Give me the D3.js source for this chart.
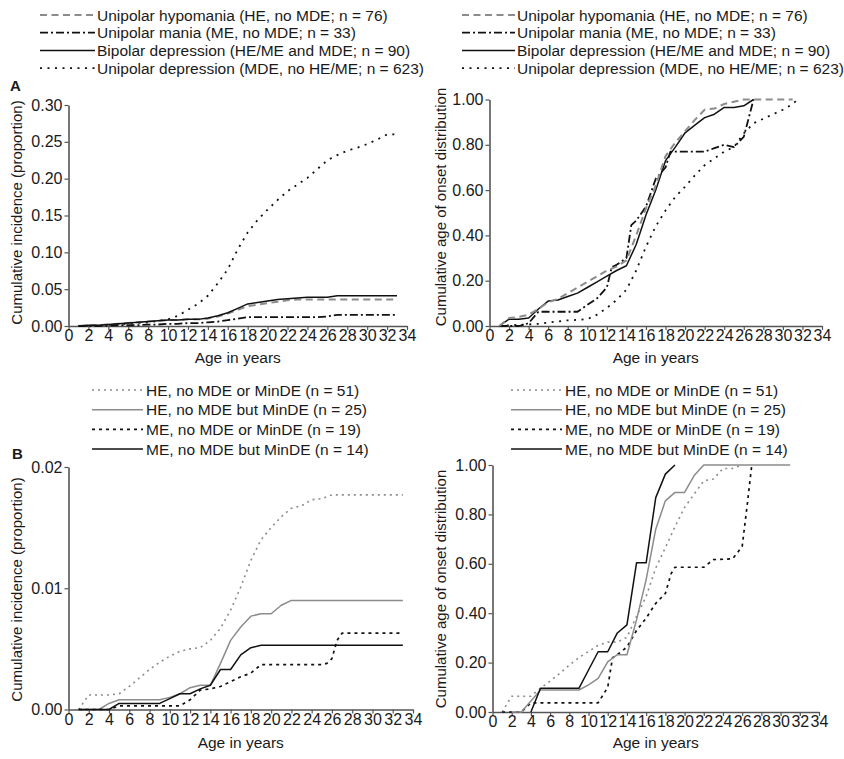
<!DOCTYPE html>
<html><head><meta charset="utf-8">
<script src="https://cdn.jsdelivr.net/npm/d3@7"></script>
<style>
html,body{margin:0;padding:0;background:#fff;}
svg text{font-family:"Liberation Sans",Arial,Helvetica,sans-serif;fill:#1a1a1a;}
</style></head>
<body><div id="chart"></div>
<script>
// ---------------- DATA ----------------
const xTickValues = [0,2,4,6,8,10,12,14,16,18,20,22,24,26,28,30,32,34];
const yTicksAInc = [0,0.05,0.10,0.15,0.20,0.25,0.30];
const yTicksDist = [0,0.20,0.40,0.60,0.80,1.00];
const yTicksBInc = [0,0.01,0.02];

const legendA = [
  "Unipolar hypomania (HE, no MDE; n = 76)",
  "Unipolar mania (ME, no MDE; n = 33)",
  "Bipolar depression (HE/ME and MDE; n = 90)",
  "Unipolar depression (MDE, no HE/ME; n = 623)"
];
const legendB = [
  "HE, no MDE or MinDE (n = 51)",
  "HE, no MDE but MinDE (n = 25)",
  "ME, no MDE or MinDE (n = 19)",
  "ME, no MDE but MinDE (n = 14)"
];

// Panel A, cumulative incidence (ages 1..33)
const agesA = [1,2,3,4,5,6,7,8,9,10,11,12,13,14,15,16,17,18,19,20,21,22,23,24,25,26,27,28,29,30,31,32,33];
const aIncHypo = [0,0.001,0.001,0.002,0.003,0.004,0.005,0.006,0.007,0.008,0.008,0.009,0.009,0.010,0.013,0.017,0.022,0.027,0.029,0.031,0.033,0.035,0.036,0.036,0.036,0.036,0.036,0.036,0.036,0.036,0.036,0.036,0.036];
const aIncMania = [0,0,0,0.0005,0.001,0.001,0.001,0.002,0.002,0.003,0.003,0.004,0.004,0.005,0.006,0.008,0.010,0.012,0.012,0.012,0.012,0.012,0.012,0.012,0.012,0.013,0.015,0.015,0.015,0.015,0.015,0.015,0.015];
const aIncBipolar = [0,0.001,0.001,0.002,0.003,0.004,0.005,0.006,0.007,0.008,0.008,0.009,0.009,0.011,0.014,0.018,0.024,0.030,0.032,0.034,0.036,0.037,0.038,0.039,0.039,0.039,0.041,0.041,0.041,0.041,0.041,0.041,0.041];
const aIncDep = [0,0.0005,0.001,0.0015,0.002,0.003,0.004,0.005,0.007,0.009,0.014,0.022,0.030,0.041,0.058,0.077,0.104,0.127,0.144,0.158,0.171,0.183,0.192,0.201,0.213,0.225,0.232,0.238,0.242,0.247,0.253,0.260,0.260];

// Panel A, cumulative age of onset distribution
const aDistHypoAges = [1,2,3,4,5,6,7,8,9,10,11,12,13,14,15,16,17,18,19,20,21,22,23,24,25,26,31];
const aDistHypo = [0,0.035,0.04,0.05,0.075,0.105,0.12,0.145,0.17,0.195,0.22,0.245,0.262,0.29,0.40,0.52,0.62,0.75,0.81,0.86,0.91,0.955,0.96,0.98,0.99,1.0,1.0];
const aDistManiaAges = [1,2,3,4,5,6,7,8,9,10,11,12,12.5,13,14,14.5,15,16,17,18,18.5,19,20,21,22,23,24,25,26,27];
const aDistMania = [0,0,0,0.012,0.063,0.063,0.063,0.063,0.063,0.093,0.122,0.17,0.26,0.27,0.30,0.445,0.465,0.527,0.65,0.70,0.77,0.77,0.77,0.77,0.77,0.785,0.80,0.79,0.835,1.0];
const aDistBipolarAges = [1,2,3,4,5,6,7,8,9,10,11,12,13,14,15,16,17,18,19,20,21,22,23,24,25,26,27];
const aDistBipolar = [0,0.03,0.03,0.035,0.075,0.11,0.115,0.13,0.145,0.17,0.195,0.22,0.245,0.266,0.36,0.49,0.60,0.73,0.79,0.853,0.887,0.92,0.935,0.965,0.965,0.972,1.0];
const aDistDepAges = [1,2,3,4,5,6,7,8,9,10,11,12,13,14,15,16,17,18,19,20,21,22,23,24,25,26,27,28,29,30,31,31.5];
const aDistDep = [0,0.003,0.005,0.007,0.01,0.015,0.02,0.025,0.027,0.03,0.05,0.08,0.115,0.16,0.245,0.35,0.44,0.51,0.57,0.615,0.665,0.71,0.74,0.77,0.79,0.85,0.895,0.915,0.935,0.955,0.98,1.0];

// Panel B, cumulative incidence (ages 1..33)
const agesB = [1,2,3,4,5,6,7,8,9,10,11,12,13,14,15,16,17,18,19,20,21,22,23,24,25,26,27,28,29,30,31,32,33];
const bIncHeNoMin = [0,0.0012,0.0012,0.0012,0.0013,0.0019,0.0026,0.0033,0.0039,0.0044,0.0048,0.0050,0.0051,0.0057,0.0067,0.0082,0.0101,0.0123,0.0140,0.0150,0.0159,0.0166,0.0168,0.0173,0.0174,0.0177,0.0177,0.0177,0.0177,0.0177,0.0177,0.0177,0.0177];
const bIncHeMin = [0,0,0,0.0005,0.0008,0.0008,0.0008,0.0008,0.0008,0.0010,0.0013,0.0018,0.0020,0.0020,0.0038,0.0057,0.0068,0.0077,0.0079,0.0079,0.0086,0.0090,0.0090,0.0090,0.0090,0.0090,0.0090,0.0090,0.0090,0.0090,0.0090,0.0090,0.0090];
const bIncMeNoMinAges = [1,2,3,4,5,6,7,8,9,10,11,12,13,14,15,16,17,18,19,20,21,22,23,24,25,25.5,26,26.5,27,28,29,30,31,32,33];
const bIncMeNoMin = [0,0,0,0,0.0003,0.0003,0.0003,0.0003,0.0003,0.0003,0.0003,0.0008,0.0016,0.0017,0.0019,0.0023,0.0027,0.0030,0.0037,0.0037,0.0037,0.0037,0.0037,0.0037,0.0037,0.0038,0.0042,0.0057,0.0063,0.0063,0.0063,0.0063,0.0063,0.0063,0.0063];
const bIncMeMin = [0,0,0,0,0.0005,0.0005,0.0005,0.0005,0.0005,0.0009,0.0013,0.0013,0.0017,0.0020,0.0033,0.0033,0.0045,0.0051,0.0053,0.0053,0.0053,0.0053,0.0053,0.0053,0.0053,0.0053,0.0053,0.0053,0.0053,0.0053,0.0053,0.0053,0.0053];

// Panel B, cumulative age of onset distribution
const bDistHeNoMinAges = [1,2,3,4,5,6,7,8,9,10,11,12,13,14,15,16,17,18,19,20,21,22,23,24,25,26];
const bDistHeNoMin = [0,0.064,0.064,0.064,0.096,0.125,0.156,0.19,0.22,0.245,0.27,0.283,0.283,0.303,0.387,0.468,0.583,0.665,0.75,0.828,0.882,0.936,0.943,0.986,0.986,1.0];
const bDistHeMinAges = [2,3,4,5,9,10,11,12,13,14,15,16,17,18,19,20,21,22,31];
const bDistHeMin = [0,0,0.045,0.089,0.089,0.11,0.136,0.203,0.232,0.232,0.373,0.536,0.74,0.855,0.889,0.889,0.957,1.0,1.0];
const bDistMeNoMinAges = [1,3,4,11,12,12.5,13,14,15,16,17,18,18.6,19,22,23,25,26,26.5,27];
const bDistMeNoMin = [0,0,0.037,0.037,0.10,0.22,0.232,0.263,0.33,0.38,0.44,0.48,0.56,0.586,0.586,0.617,0.62,0.67,0.83,1.0];
const bDistMeMinAges = [4,5,9,10,11,12,13,14,15,16,17,18,19];
const bDistMeMin = [0,0.096,0.096,0.17,0.244,0.244,0.32,0.353,0.604,0.604,0.868,0.963,1.0];

// ---------------- STYLES ----------------
const GRAY = "#8c8c8c";
const styleA = [
  {stroke:GRAY, dash:"7,4.5", w:2},
  {stroke:"#111", dash:"8,3,2,3", w:1.8},
  {stroke:"#111", dash:null, w:1.5},
  {stroke:"#111", dash:"2,5.5", w:1.8}
];
const styleB = [
  {stroke:GRAY, dash:"2,4", w:1.6},
  {stroke:GRAY, dash:null, w:1.5},
  {stroke:"#111", dash:"3,4", w:1.7},
  {stroke:"#111", dash:null, w:1.5}
];
const TICK_FS = "16px", TITLE_FS = "15.5px", YTITLE_FS = "15px", LEG_FS = "15.5px";

const zip = (a, v) => a.map((x, i) => ({x, y: v[i]}));

const panels = [
  {x0:68.5, x1:407, yBot:326, yTop:105, ymax:0.30, yt:yTicksAInc, fmt:d3.format(".2f"),
   title:"Cumulative incidence (proportion)", tX:22, tY:212.5, xtY:363, styles:styleA,
   series:[zip(agesA,aIncHypo), zip(agesA,aIncMania), zip(agesA,aIncBipolar), zip(agesA,aIncDep)],
   order:[3,0,1,2]},
  {x0:489.5, x1:822, yBot:326, yTop:99.5, ymax:1.0, yt:yTicksDist, fmt:d3.format(".2f"),
   title:"Cumulative age of onset distribution", tX:446, tY:207, xtY:363, styles:styleA,
   series:[zip(aDistHypoAges,aDistHypo), zip(aDistManiaAges,aDistMania), zip(aDistBipolarAges,aDistBipolar), zip(aDistDepAges,aDistDep)],
   order:[3,2,1,0]},
  {x0:68.5, x1:413, yBot:709.5, yTop:467, ymax:0.02, yt:yTicksBInc, fmt:d3.format(".2f"),
   title:"Cumulative incidence (proportion)", tX:22, tY:589.5, xtY:748, styles:styleB,
   series:[zip(agesB,bIncHeNoMin), zip(agesB,bIncHeMin), zip(bIncMeNoMinAges,bIncMeNoMin), zip(agesB,bIncMeMin)],
   order:[0,1,2,3]},
  {x0:492.5, x1:819, yBot:712, yTop:465, ymax:1.0, yt:yTicksDist, fmt:d3.format(".2f"),
   title:"Cumulative age of onset distribution", tX:445.5, tY:589, xtY:748, styles:styleB,
   series:[zip(bDistHeNoMinAges,bDistHeNoMin), zip(bDistHeMinAges,bDistHeMin), zip(bDistMeNoMinAges,bDistMeNoMin), zip(bDistMeMinAges,bDistMeMin)],
   order:[0,2,1,3]}
];

const svg = d3.select("#chart").append("svg").attr("width",844).attr("height",759);

panels.forEach(p => {
  const x = d3.scaleLinear().domain([0,34]).range([p.x0,p.x1]);
  const y = d3.scaleLinear().domain([0,p.ymax]).range([p.yBot,p.yTop]);
  const g = svg.append("g");

  const xa = g.append("g").attr("transform",`translate(0,${p.yBot})`)
    .call(d3.axisBottom(x).tickValues(xTickValues).tickSize(4).tickSizeOuter(0).tickFormat(d3.format("d")));
  xa.selectAll("text").attr("y",15).attr("dy",0).style("font-size",TICK_FS).style("fill","#1a1a1a");
  const ya = g.append("g").attr("transform",`translate(${p.x0},0)`)
    .call(d3.axisLeft(y).tickValues(p.yt).tickSize(4).tickSizeOuter(0).tickPadding(2).tickFormat(p.fmt));
  ya.selectAll("text").style("font-size",TICK_FS).style("fill","#1a1a1a");
  g.selectAll(".domain").attr("stroke","#555").attr("stroke-width",1.6);
  g.selectAll(".tick line").attr("stroke","#555").attr("stroke-width",1.2);

  g.append("text").attr("x",(p.x0+p.x1)/2).attr("y",p.xtY).attr("text-anchor","middle")
    .style("font-size",TITLE_FS).text("Age in years");
  g.append("text").attr("transform",`translate(${p.tX},${p.tY}) rotate(-90)`).attr("text-anchor","middle")
    .style("font-size",YTITLE_FS).text(p.title);

  const line = d3.line().x(d => x(d.x)).y(d => y(d.y));
  p.order.forEach(i => {
    const s = p.styles[i];
    g.append("path").datum(p.series[i]).attr("d",line)
      .attr("fill","none").attr("stroke",s.stroke).attr("stroke-width",s.w)
      .attr("stroke-dasharray",s.dash).attr("stroke-linejoin","round");
  });
});

function legend(items, styles, lx1, lx2, tx, y0, dy){
  const g = svg.append("g");
  items.forEach((t,i) => {
    const yy = y0 + i*dy;
    const s = styles[i];
    g.append("line").attr("x1",lx1).attr("x2",lx2).attr("y1",yy).attr("y2",yy)
      .attr("stroke",s.stroke).attr("stroke-width",s.w).attr("stroke-dasharray",s.dash);
    g.append("text").attr("x",tx).attr("y",yy).attr("dy","0.36em").style("font-size",LEG_FS).text(t);
  });
}
legend(legendA, styleA, 40, 95, 97, 15, 17.7);
legend(legendA, styleA, 462, 515, 517, 15, 17.7);
legend(legendB, styleB, 92, 143, 146, 390, 19.7);
legend(legendB, styleB, 511, 562, 565, 390, 19.7);

svg.append("text").attr("x",10).attr("y",91).style("font-size","15px").style("font-weight","bold").text("A");
svg.append("text").attr("x",12).attr("y",459).style("font-size","15px").style("font-weight","bold").text("B");
</script>
</body></html>
